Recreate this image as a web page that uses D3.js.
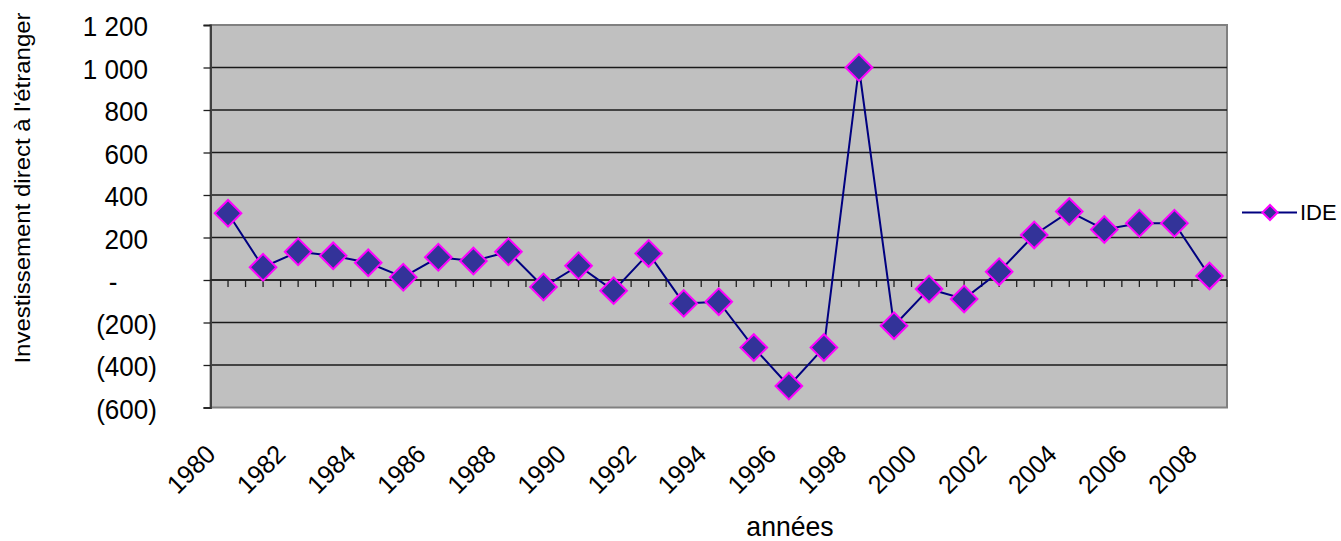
<!DOCTYPE html>
<html>
<head>
<meta charset="utf-8">
<script src="https://cdn.jsdelivr.net/npm/d3@7"></script>
<style>
  html, body { margin: 0; padding: 0; background: #fff; }
  svg { display: block; font-family: "Liberation Sans", Arial, sans-serif; }
</style>
</head>
<body>
<svg id="chart" width="1341" height="541"></svg>
<script>
const years = ["1980","1981","1982","1983","1984","1985","1986","1987","1988","1989",
  "1990","1991","1992","1993","1994","1995","1996","1997","1998","1999",
  "2000","2001","2002","2003","2004","2005","2006","2007","2008"];
const ideValues = [314, 60, 133, 114, 81, 13, 107, 89, 133, -33,
  67, -50, 125, -110, -102, -318, -499, -318, 1000, -215,
  -42, -89, 39, 212, 322, 238, 267, 267, 19];
const yTicks = [-600, -400, -200, 0, 200, 400, 600, 800, 1000, 1200];
const xTickLabels = ["1980","1982","1984","1986","1988","1990","1992","1994","1996","1998","2000","2002","2004","2006","2008"];
const seriesName = "IDE";
const yTitle = "Investissement direct à l'étranger";
const xTitle = "années";

const svg = d3.select("#chart");
const plot = { left: 210.5, right: 1227, top: 25, bottom: 407.5 };

const x = d3.scaleBand().domain(years).range([plot.left, plot.right]).padding(0);
const y = d3.scaleLinear().domain([-600, 1200]).range([plot.bottom, plot.top]);

const fmt = v => {
  if (v === 0) return "-";
  const s = d3.format(",")(Math.abs(v)).replace(/,/g, " ");
  return v < 0 ? "(" + s + ")" : s;
};

// squeeze text horizontally along its own direction
function squeeze(sel, k) {
  sel.each(function () {
    const w = this.getComputedTextLength();
    d3.select(this).attr("textLength", w * k).attr("lengthAdjust", "spacingAndGlyphs");
  });
}

// plot background
svg.append("rect")
  .attr("x", plot.left).attr("y", plot.top)
  .attr("width", plot.right - plot.left).attr("height", plot.bottom - plot.top)
  .attr("fill", "#C0C0C0").attr("stroke", "#808080").attr("stroke-width", 2);

// gridlines
svg.append("g").selectAll("line")
  .data(yTicks.filter(v => v !== 1200 && v !== -600))
  .join("line")
  .attr("x1", plot.left).attr("x2", plot.right)
  .attr("y1", d => y(d)).attr("y2", d => y(d))
  .attr("stroke", "#1a1a1a").attr("stroke-width", 1.3);

// y axis
const yAxis = d3.axisLeft(y).tickValues(yTicks).tickFormat(fmt).tickSize(7).tickPadding(55);
const gy = svg.append("g").attr("transform", `translate(${plot.left},0)`).call(yAxis);
gy.select(".domain").attr("stroke", "#404040").attr("stroke-width", 2);
gy.selectAll(".tick line").attr("stroke", "#202020").attr("stroke-width", 1.3);
const digitRight = 148 - plot.left;
gy.selectAll(".tick text")
  .attr("font-size", 28).attr("fill", "#000")
  .attr("font-family", "Liberation Sans, Arial, sans-serif")
  .attr("dy", "0.38em")
  .attr("text-anchor", d => d === 0 ? "middle" : "end")
  .attr("x", d => d === 0 ? 113 - plot.left : (d < 0 ? digitRight + 9 : digitRight))
  .call(squeeze, 0.93);

// x axis at zero: line + ticks every half band
const gx = svg.append("g");
gx.append("line")
  .attr("x1", plot.left).attr("x2", plot.right)
  .attr("y1", y(0)).attr("y2", y(0))
  .attr("stroke", "#202020").attr("stroke-width", 1.5);
const half = x.bandwidth() / 2;
const tickPos = d3.range(1, years.length * 2 + 1).map(i => plot.left + i * half);
gx.selectAll("line.t").data(tickPos).join("line").attr("class", "t")
  .attr("x1", d => d).attr("x2", d => d)
  .attr("y1", y(0)).attr("y2", y(0) + 7)
  .attr("stroke", "#202020").attr("stroke-width", 1.3);

// x tick labels, rotated
svg.append("g").selectAll("text")
  .data(xTickLabels)
  .join("text")
  .attr("transform", d => `translate(${x(d) + half - 11},456) rotate(-45)`)
  .attr("text-anchor", "end")
  .attr("font-size", 26)
  .attr("fill", "#000")
  .text(d => d)
  .call(squeeze, 0.96);

// line
const line = d3.line().x((d, i) => x(years[i]) + half).y(d => y(d));
svg.append("path")
  .datum(ideValues)
  .attr("d", line)
  .attr("fill", "none")
  .attr("stroke", "#000080")
  .attr("stroke-width", 2);

// markers
const diamond = d3.symbol().type(d3.symbolSquare).size(354);
svg.append("g").selectAll("path")
  .data(ideValues)
  .join("path")
  .attr("d", diamond)
  .attr("transform", (d, i) => `translate(${x(years[i]) + half},${y(d)}) rotate(45)`)
  .attr("fill", "#333399")
  .attr("stroke", "#FF00FF")
  .attr("stroke-width", 2);

// y title
svg.append("text")
  .attr("transform", "translate(30,188) scale(0.95,1) rotate(-90)")
  .attr("text-anchor", "middle")
  .attr("font-size", 24)
  .attr("fill", "#000")
  .text(yTitle);

// x title
svg.append("text")
  .attr("x", 790).attr("y", 536)
  .attr("text-anchor", "middle")
  .attr("font-size", 28)
  .attr("fill", "#000")
  .text(xTitle)
  .call(squeeze, 0.95);

// legend
const lg = svg.append("g");
lg.append("line").attr("x1", 1242).attr("x2", 1297).attr("y1", 212.5).attr("y2", 212.5)
  .attr("stroke", "#000080").attr("stroke-width", 2);
lg.append("path").attr("d", d3.symbol().type(d3.symbolSquare).size(113))
  .attr("transform", "translate(1270,212.5) rotate(45)")
  .attr("fill", "#333399").attr("stroke", "#FF00FF").attr("stroke-width", 2);
lg.append("text").attr("x", 1300).attr("y", 212.5).attr("dy", "0.36em")
  .attr("font-size", 22).attr("fill", "#000").text(seriesName);
</script>
</body>
</html>
